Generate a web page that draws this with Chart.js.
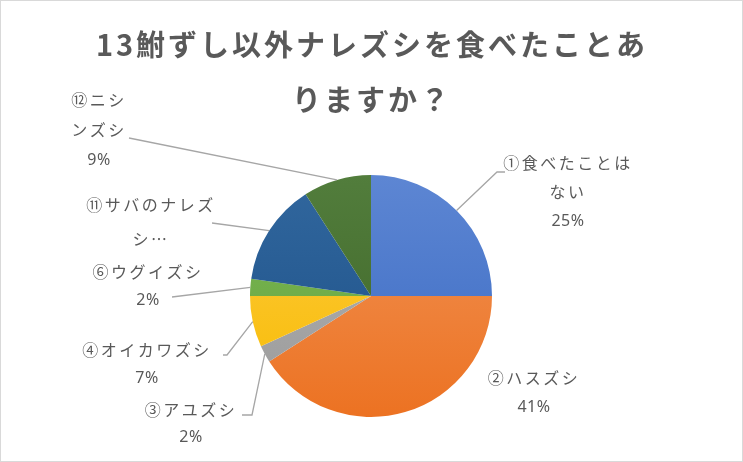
<!DOCTYPE html>
<html>
<head>
<meta charset="utf-8">
<script src="https://cdn.jsdelivr.net/npm/chart.js@4"></script>
<style>
html,body{margin:0;padding:0;background:#fff;}
#wrap{width:743px;height:462px;position:relative;}
</style>
</head>
<body>
<div id="wrap"><canvas id="c" width="743" height="462"></canvas></div>
<script>
// ---- data ----
const titleLines = ['13鮒ずし以外ナレズシを食べたことあ', 'りますか？'];
const categories = ['①食べたことはない', '②ハスズシ', '③アユズシ', '④オイカワズシ', '⑥ウグイズシ', '⑪サバのナレズシ', '⑫ニシンズシ'];
const counts = [11, 18, 1, 3, 1, 6, 4];
const colorsTop = ['#5d86d3', '#f19458', '#b3b3b3', '#ffcb45', '#7cb957', '#31679e', '#527d3c'];
const colorsBottom = ['#3b6bc3', '#ec7222', '#9a9a9a', '#f6bb00', '#65a23c', '#1d5087', '#3e6527'];

// ---- label layout (not data) ----
const labelLayout = [
  {x: 567, y: 163, lh: 29, wrap: 7, leader: [[505, 172], [497, 172]]},
  {x: 533, y: 378, lh: 29, wrap: 99, leader: null},
  {x: 190, y: 410, lh: 27, wrap: 99, leader: [[242, 415], [252, 415]]},
  {x: 146, y: 350, lh: 28, wrap: 99, leader: [[223, 355], [227, 355]]},
  {x: 147, y: 272, lh: 28, wrap: 99, leader: [[172, 297]]},
  {x: 150, y: 205, lh: 34, wrap: 7, truncate: true, leader: [[212, 223]]},
  {x: 98, y: 100, lh: 30, wrap: 3, leader: [[129, 138]]}
];

const total = counts.reduce((a, b) => a + b, 0);

const labelPlugin = {
  id: 'labels',
  afterDraw(chart) {
    const ctx = chart.ctx;
    ctx.save();
    // frame
    ctx.strokeStyle = '#d9d9d9';
    ctx.lineWidth = 1;
    ctx.strokeRect(0.5, 0.5, chart.width - 1, chart.height - 1);
    // title
    ctx.fillStyle = '#595959';
    ctx.font = 'bold 29px "Noto Sans CJK JP", "Noto Sans", sans-serif';
    ctx.textAlign = 'center';
    ctx.textBaseline = 'middle';
    ctx.letterSpacing = '3px';
    ctx.fillText(titleLines[0], 372, 45);
    ctx.fillText(titleLines[1], 372, 100);

    const meta = chart.getDatasetMeta(0);
    const nameFont = '16px "Noto Sans CJK JP", "Noto Sans", sans-serif';
    const pctFont = '16px "Noto Sans", "Noto Sans CJK JP", sans-serif';
    meta.data.forEach((arc, i) => {
      const L = labelLayout[i];
      const name = categories[i];
      const lines = [];
      if (name.length > L.wrap) {
        lines.push(name.slice(0, L.wrap));
        let rest = name.slice(L.wrap);
        if (L.truncate) rest = rest + '…';
        lines.push(rest);
      } else {
        lines.push(name);
      }
      const nNames = lines.length;
      if (!L.truncate) lines.push(Math.round(counts[i] / total * 100) + '%');
      ctx.fillStyle = '#595959';
      lines.forEach((t, k) => {
        if (k < nNames) { ctx.font = nameFont; ctx.letterSpacing = '2.5px'; }
        else { ctx.font = pctFont; ctx.letterSpacing = '0.5px'; }
        ctx.fillText(t, L.x + 1, L.y + k * L.lh);
      });
      if (L.leader) {
        const p = arc.getProps(['x', 'y', 'startAngle', 'endAngle', 'outerRadius'], true);
        const mid = (p.startAngle + p.endAngle) / 2;
        const ex = p.x + Math.cos(mid) * p.outerRadius;
        const ey = p.y + Math.sin(mid) * p.outerRadius;
        ctx.strokeStyle = '#a6a6a6';
        ctx.lineWidth = 1.3;
        ctx.beginPath();
        ctx.moveTo(L.leader[0][0], L.leader[0][1]);
        for (let k = 1; k < L.leader.length; k++) ctx.lineTo(L.leader[k][0], L.leader[k][1]);
        ctx.lineTo(ex, ey);
        ctx.stroke();
      }
    });
    ctx.restore();
  }
};

function grad(ctx, i) {
  const ch = ctx.chart;
  const a = ch.chartArea;
  if (!a) return colorsBottom[i];
  const g = ch.ctx.createLinearGradient(0, a.top, 0, a.bottom);
  g.addColorStop(0, colorsTop[i]);
  g.addColorStop(1, colorsBottom[i]);
  return g;
}

new Chart(document.getElementById('c'), {
  type: 'pie',
  data: {
    labels: categories,
    datasets: [{
      data: counts,
      backgroundColor: (ctx) => grad(ctx, ctx.dataIndex),
      borderWidth: 0
    }]
  },
  options: {
    responsive: false,
    animation: false,
    devicePixelRatio: 1,
    layout: {padding: {top: 175, bottom: 45, left: 250, right: 251}},
    plugins: {
      legend: {display: false},
      title: {display: false},
      tooltip: {enabled: false}
    }
  },
  plugins: [labelPlugin]
});
</script>
</body>
</html>
